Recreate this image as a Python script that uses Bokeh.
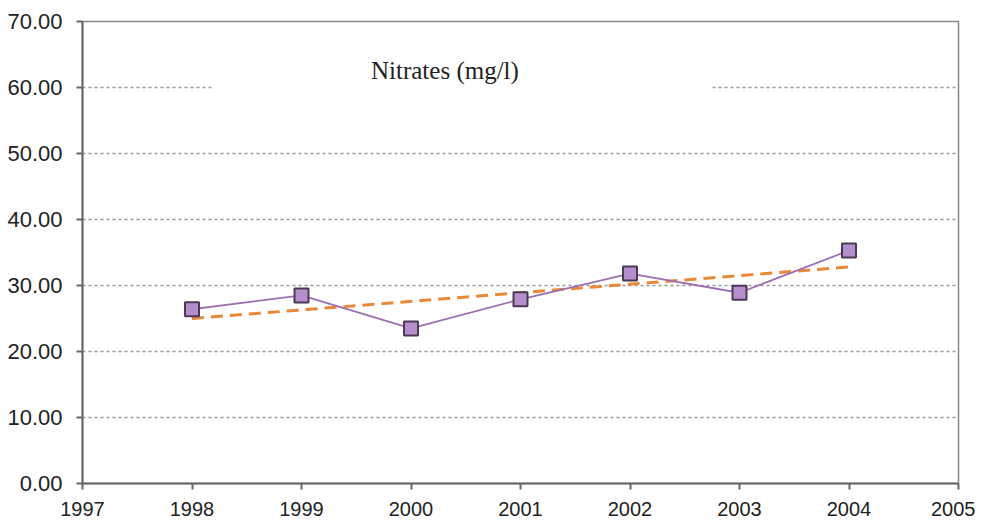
from bokeh.plotting import figure
from bokeh.models import FixedTicker, NumeralTickFormatter, Range1d, Label, BoxAnnotation
from bokeh.embed import file_html
from bokeh.resources import INLINE

# Data
years = [1998, 1999, 2000, 2001, 2002, 2003, 2004]
nitrates = [26.4, 28.5, 23.5, 27.9, 31.8, 28.9, 35.3]
trend_years = [1998, 2004]
trend_values = [25.0, 32.8]
x_ticks = [1997, 1998, 1999, 2000, 2001, 2002, 2003, 2004, 2005]
y_ticks = [0, 10, 20, 30, 40, 50, 60, 70]
title_text = "Nitrates (mg/l)"

p = figure(width=975, height=523, output_backend="svg", toolbar_location=None,
           x_range=Range1d(1997, 2005), y_range=Range1d(0, 70),
           frame_width=876, frame_height=462,
           min_border_left=82, min_border_top=21, min_border_right=17, min_border_bottom=40)
p.background_fill_color = "white"
p.border_fill_color = "white"
p.outline_line_color = "#888888"
p.outline_line_width = 1.5

p.xgrid.visible = False
p.ygrid.ticker = FixedTicker(ticks=y_ticks)
p.ygrid.grid_line_color = "#999999"
p.ygrid.grid_line_dash = "3 3"
p.ygrid.grid_line_width = 1.5

p.xaxis.ticker = FixedTicker(ticks=x_ticks)
p.yaxis.ticker = FixedTicker(ticks=y_ticks)
p.yaxis.formatter = NumeralTickFormatter(format="0.00")
for ax in (p.xaxis, p.yaxis):
    ax.axis_line_color = "#666666"
    ax.axis_line_width = 2
    ax.major_tick_line_color = "#666666"
    ax.major_tick_line_width = 2
    ax.major_tick_out = 6
    ax.major_tick_in = 0
    ax.minor_tick_line_color = None
    ax.major_label_text_font = "Liberation Sans"
    ax.major_label_text_color = "#222222"
p.yaxis.major_label_text_font_size = "22px"
p.xaxis.major_label_text_font_size = "20px"
p.yaxis.major_label_standoff = 14
p.xaxis.major_label_standoff = 12

# white box behind title
p.add_layout(BoxAnnotation(left=1998.2, right=2002.75, bottom=56, top=68,
                           fill_color="white", fill_alpha=1.0, line_color=None,
                           level="underlay"))
p.add_layout(Label(x=2000.31, y=62.6, text=title_text, text_align="center",
                   text_baseline="middle", text_font="Liberation Serif",
                   text_font_size="25px", text_color="#222222"))

p.line(trend_years, trend_values, line_color="#e8893a", line_width=3, line_dash="12 7")
p.line(years, nitrates, line_color="#9b6fb0", line_width=1.8)
p.scatter(years, nitrates, marker="square", size=14, fill_color="#b48fcb",
          line_color="#4b3a55", line_width=2)

open("out.html", "w").write(file_html(p, INLINE))
